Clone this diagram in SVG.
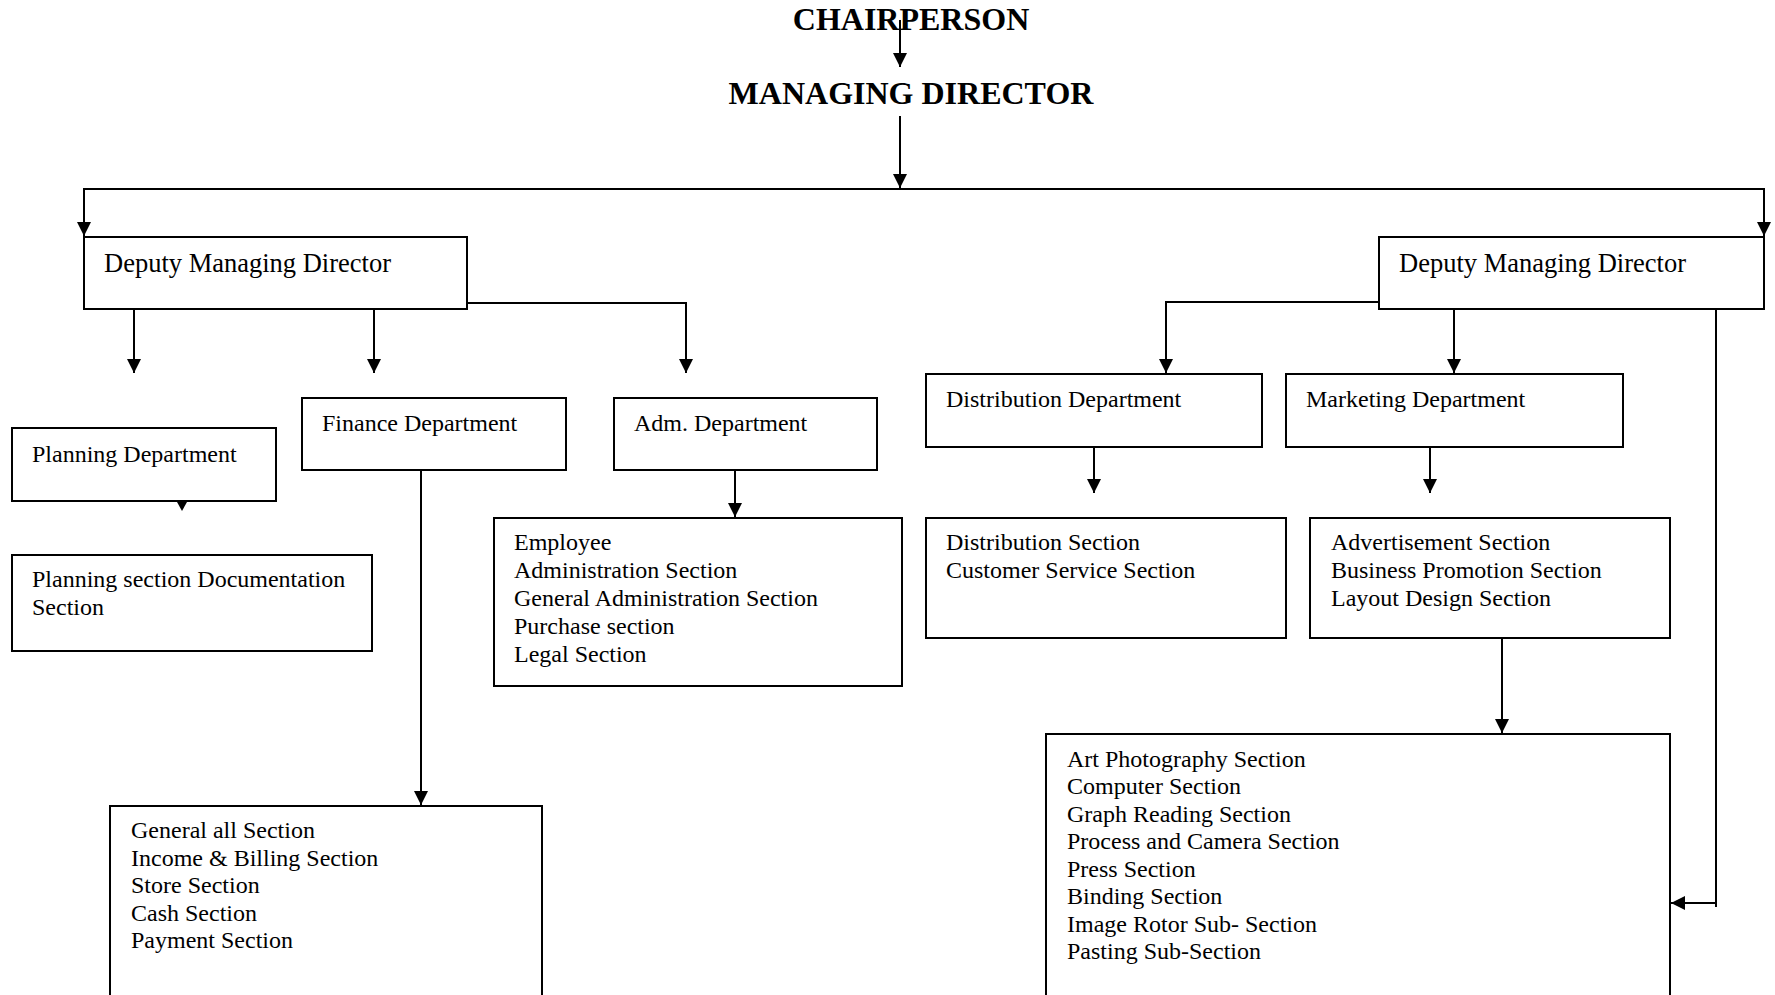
<svg xmlns="http://www.w3.org/2000/svg" width="1775" height="995" viewBox="0 0 1775 995">
<style>
.box{fill:#fff;stroke:#000;stroke-width:2}
.t{font-family:"Liberation Serif","Times New Roman",serif;font-size:24px;fill:#000}
.dmd{font-size:26.5px}
.h{font-family:"Liberation Serif","Times New Roman",serif;font-size:32px;font-weight:bold;fill:#000;text-anchor:middle}
.c{fill:none;stroke:#000;stroke-width:2}
</style>
<defs>
<marker id="ah" markerUnits="userSpaceOnUse" markerWidth="16" markerHeight="16" refX="14" refY="7" orient="auto">
<path d="M0,0 L14,7 L0,14 z" fill="#000"/>
</marker>
</defs>
<rect width="1775" height="995" fill="#fff"/>
<g id="chairperson"><text class="h" x="911" y="30">CHAIRPERSON</text></g>
<g id="managing-director"><text class="h" x="911" y="104">MANAGING DIRECTOR</text></g>
<g id="dmd-left"><rect class="box" x="84" y="237" width="383" height="72"/><text class="t dmd" x="104" y="272">Deputy Managing Director</text></g>
<g id="dmd-right"><rect class="box" x="1379" y="237" width="385" height="72"/><text class="t dmd" x="1399" y="272">Deputy Managing Director</text></g>
<g id="planning-dept"><rect class="box" x="12" y="428" width="264" height="73"/><text class="t" x="32" y="462">Planning Department</text></g>
<g id="finance-dept"><rect class="box" x="302" y="398" width="264" height="72"/><text class="t" x="322" y="431">Finance Department</text></g>
<g id="adm-dept"><rect class="box" x="614" y="398" width="263" height="72"/><text class="t" x="634" y="431">Adm. Department</text></g>
<g id="planning-sections"><rect class="box" x="12" y="555" width="360" height="96"/><text class="t" x="32" y="587">Planning section Documentation</text><text class="t" x="32" y="615">Section</text></g>
<g id="adm-sections"><rect class="box" x="494" y="518" width="408" height="168"/>
<text class="t" x="514" y="550">Employee</text>
<text class="t" x="514" y="578">Administration Section</text>
<text class="t" x="514" y="606">General Administration Section</text>
<text class="t" x="514" y="634">Purchase section</text>
<text class="t" x="514" y="662">Legal Section</text></g>
<g id="finance-sections"><rect class="box" x="110" y="806" width="432" height="220"/>
<text class="t" x="131" y="838">General all Section</text>
<text class="t" x="131" y="866">Income &amp; Billing Section</text>
<text class="t" x="131" y="893">Store Section</text>
<text class="t" x="131" y="921">Cash Section</text>
<text class="t" x="131" y="948">Payment Section</text></g>
<g id="distribution-dept"><rect class="box" x="926" y="374" width="336" height="73"/><text class="t" x="946" y="407">Distribution Department</text></g>
<g id="marketing-dept"><rect class="box" x="1286" y="374" width="337" height="73"/><text class="t" x="1306" y="407">Marketing Department</text></g>
<g id="distribution-sections"><rect class="box" x="926" y="518" width="360" height="120"/>
<text class="t" x="946" y="550">Distribution Section</text>
<text class="t" x="946" y="578">Customer Service Section</text></g>
<g id="marketing-sections"><rect class="box" x="1310" y="518" width="360" height="120"/>
<text class="t" x="1331" y="550">Advertisement Section</text>
<text class="t" x="1331" y="578">Business Promotion Section</text>
<text class="t" x="1331" y="606">Layout Design Section</text></g>
<g id="production-sections"><rect class="box" x="1046" y="734" width="624" height="300"/>
<text class="t" x="1067" y="767">Art Photography Section</text>
<text class="t" x="1067" y="794">Computer Section</text>
<text class="t" x="1067" y="822">Graph Reading Section</text>
<text class="t" x="1067" y="849">Process and Camera Section</text>
<text class="t" x="1067" y="877">Press Section</text>
<text class="t" x="1067" y="904">Binding Section</text>
<text class="t" x="1067" y="932">Image Rotor Sub- Section</text>
<text class="t" x="1067" y="959">Pasting Sub-Section</text></g>
<g id="connectors">
<path class="c" d="M900,20 V67" marker-end="url(#ah)"/>
<path class="c" d="M900,116 V188" marker-end="url(#ah)"/>
<path class="c" d="M900,189 H84 V236" marker-end="url(#ah)"/>
<path class="c" d="M900,189 H1764 V236" marker-end="url(#ah)"/>
<path class="c" d="M134,309 V373" marker-end="url(#ah)"/>
<path class="c" d="M374,309 V373" marker-end="url(#ah)"/>
<path class="c" d="M467,303 H686 V373" marker-end="url(#ah)"/>
<polygon points="177,502 187,502 182,511" fill="#000"/>
<path class="c" d="M421,470 V805" marker-end="url(#ah)"/>
<path class="c" d="M735,470 V517" marker-end="url(#ah)"/>
<path class="c" d="M1379,302 H1166 V373" marker-end="url(#ah)"/>
<path class="c" d="M1454,309 V373" marker-end="url(#ah)"/>
<path class="c" d="M1094,447 V493" marker-end="url(#ah)"/>
<path class="c" d="M1430,447 V493" marker-end="url(#ah)"/>
<path class="c" d="M1502,638 V733" marker-end="url(#ah)"/>
<path class="c" d="M1716,309 V907"/>
<path class="c" d="M1716,903 H1671" marker-end="url(#ah)"/>
</g>
</svg>
